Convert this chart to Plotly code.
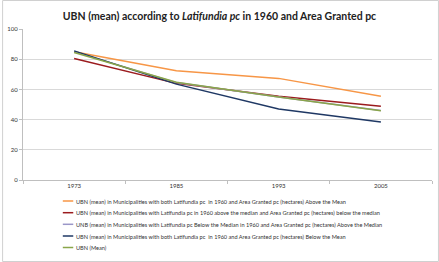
import plotly.graph_objects as go

years = ["1973", "1985", "1993", "2005"]
names = [
    "UBN (mean) in Municipalities with both Latifundia pc  in 1960 and Area Granted pc (hectares) Above the Mean",
    "UBN (mean) in Municipalities with Latifundia pc in 1960 above the median and Area Granted pc (hectares) below the median",
    "UNB (mean) in Municipalities with Latifundia pc Below the Median in 1960 and Area Granted pc (hectares) Above the Median",
    "UBN (mean) in Municipalities with both Latifundia pc  in 1960 and Area Granted pc (hectares) Below the Mean",
    "UBN (Mean)",
]
above_mean = [85, 72.4, 67.3, 55.5]
latif_above_median = [80.5, 64, 55.5, 48.8]
latif_below_median = [85, 64.5, 55, 46]
below_mean = [85.5, 63.5, 47, 38.4]
ubn_mean = [84.5, 64.7, 55, 45.8]
series = [above_mean, latif_above_median, latif_below_median, below_mean, ubn_mean]
colors = ["#F79646", "#9B1B1E", "#9A97C8", "#1F3864", "#8AA64A"]

L, R, T, B = 21, 7, 29, 82
W, H = 439, 262
PW, PH = W - L - R, H - T - B

def px2x(px):
    return (px - L) / PW

def py2y(py):
    return (H - B - py) / PH

fig = go.Figure()
for n, v, c in zip(names, series, colors):
    fig.add_trace(go.Scatter(x=years, y=v, name=n, mode="lines",
                             line=dict(color=c, width=1.5), showlegend=False))

# manual legend
legend_rows = [201, 212.7, 224.3, 236, 247.5]
for n, c, ry in zip(names, colors, legend_rows):
    fig.add_shape(type="line", xref="paper", yref="paper",
                  x0=px2x(61), x1=px2x(71.5), y0=py2y(ry), y1=py2y(ry),
                  line=dict(color=c, width=1.5))
    fig.add_annotation(xref="paper", yref="paper", x=px2x(72.5), y=py2y(ry),
                       xanchor="left", yanchor="middle", showarrow=False,
                       text=n, font=dict(family="Lato", size=5.6, color="#333333"))

fig.update_layout(
    width=W, height=H,
    margin=dict(l=L, r=R, t=T, b=B),
    paper_bgcolor="white", plot_bgcolor="white",
    title=dict(text="<b>UBN (mean) according to <i>Latifundia pc</i> in 1960 and Area Granted pc</b>",
               font=dict(family="Lato", size=10.5, color="#222222"),
               x=0.5, xanchor="center", y=1 - 16 / H, yanchor="middle"),
    showlegend=False,
    font=dict(family="Lato", size=6, color="#333333"),
)
fig.update_xaxes(type="category", range=[-0.5, 3.5], showgrid=False,
                 showline=True, linecolor="#BFBFBF", linewidth=1,
                 ticks="outside", tickson="boundaries", ticklen=3, tickcolor="#BFBFBF",
                 tickfont=dict(size=6, color="#333333"))
fig.update_yaxes(range=[0, 100], dtick=20, showgrid=True, gridcolor="#D9D9D9",
                 showline=True, linecolor="#BFBFBF", linewidth=1,
                 ticks="outside", ticklen=3, tickcolor="#BFBFBF", zeroline=False,
                 tickfont=dict(size=6, color="#333333"))
fig.add_shape(type="rect", xref="paper", yref="paper",
              x0=px2x(0.5), x1=px2x(W - 0.5), y0=py2y(H - 0.5), y1=py2y(0.5),
              line=dict(color="#D0D0D0", width=1), fillcolor="rgba(0,0,0,0)")
fig.write_html("out.html")
